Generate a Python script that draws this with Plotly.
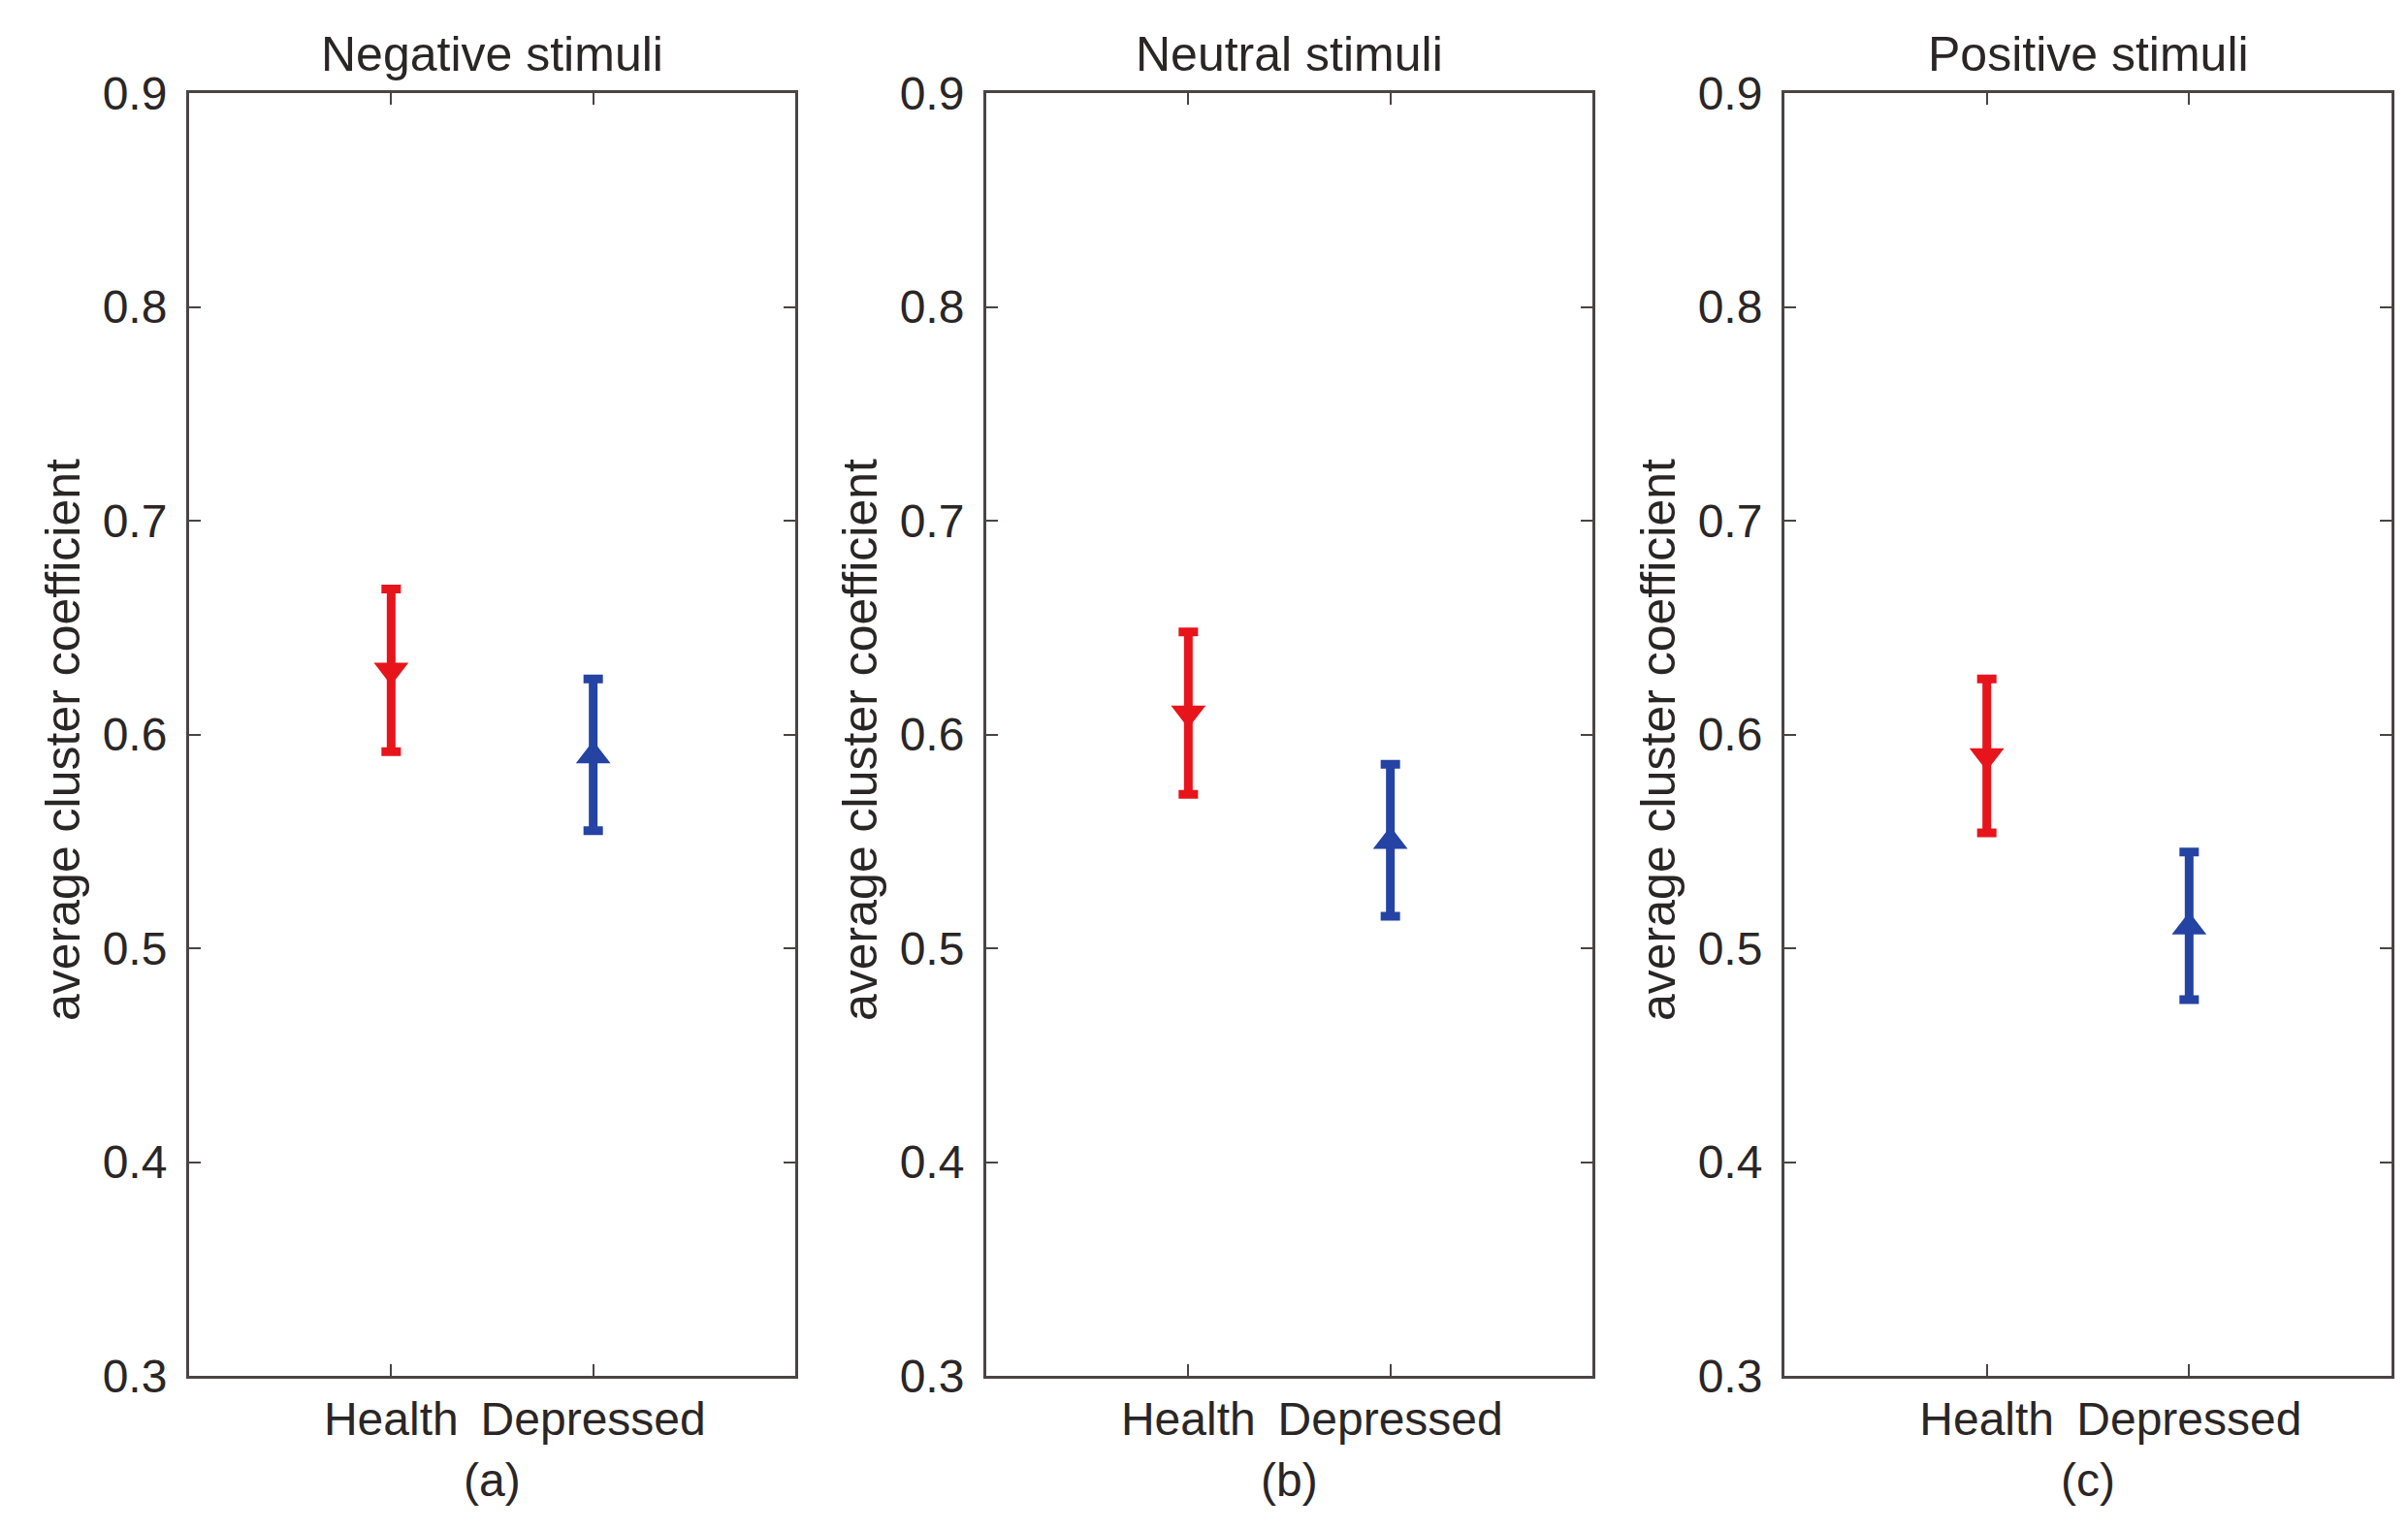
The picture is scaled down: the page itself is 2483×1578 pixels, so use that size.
import plotly.graph_objects as go

# ---- data ----
groups = ["Health", "Depressed"]
panel_titles = ["Negative stimuli", "Neutral stimuli", "Positive stimuli"]
panel_labels = ["(a)", "(b)", "(c)"]
health_mean = [0.630, 0.610, 0.590]
health_upper = [0.668, 0.648, 0.626]
health_lower = [0.592, 0.572, 0.554]
depressed_mean = [0.590, 0.550, 0.510]
depressed_upper = [0.626, 0.586, 0.545]
depressed_lower = [0.555, 0.515, 0.476]
y_ticks = [0.3, 0.4, 0.5, 0.6, 0.7, 0.8, 0.9]
y_title = "average cluster coefficient"

W, H = 2483, 1578
FONT = "Liberation Sans, Arial, sans-serif"
TXT = "#2a2626"
AX = "#4a4444"
RED = "#e8141c"
BLUE = "#2443a3"

x_domains = [(187 / W, 812 / W), (1009 / W, 1634 / W), (1832 / W, 2458 / W)]
y_domain = (1 - 1411 / H, 1 - 88 / H)

fig = go.Figure()
annotations = []
for i in range(3):
    xa = "x" if i == 0 else f"x{i+1}"
    ya = "y" if i == 0 else f"y{i+1}"
    series = [
        (groups[0], health_mean[i], health_upper[i], health_lower[i], RED, "triangle-down"),
        (groups[1], depressed_mean[i], depressed_upper[i], depressed_lower[i], BLUE, "triangle-up"),
    ]
    for name, m, up, lo, col, sym in series:
        fig.add_trace(go.Scatter(
            x=[name], y=[m], xaxis=xa, yaxis=ya, mode="markers",
            marker=dict(symbol=sym, size=31, color=col, line=dict(width=0)),
            error_y=dict(type="data", symmetric=False, array=[up - m], arrayminus=[m - lo],
                         color=col, thickness=9, width=10),
            showlegend=False, hoverinfo="skip",
        ))
    xkey = "xaxis" if i == 0 else f"xaxis{i+1}"
    ykey = "yaxis" if i == 0 else f"yaxis{i+1}"
    fig.update_layout(**{
        xkey: dict(domain=list(x_domains[i]), anchor=ya, type="category",
                   categoryorder="array", categoryarray=groups,
                   range=[-1, 2], tickmode="array", tickvals=groups, ticktext=groups,
                   showline=True, linecolor=AX, linewidth=3, mirror="ticks",
                   ticks="inside", ticklen=12, tickwidth=2, tickcolor=AX,
                   showgrid=False, zeroline=False, automargin=False,
                   tickfont=dict(family=FONT, size=48, color=TXT)),
        ykey: dict(domain=list(y_domain), anchor=xa, range=[0.3, 0.9],
                   tickmode="array", tickvals=y_ticks, ticktext=[f"{v:.1f}" for v in y_ticks],
                   showline=True, linecolor=AX, linewidth=3, mirror="ticks",
                   ticks="inside", ticklen=12, tickwidth=2, tickcolor=AX,
                   showgrid=False, zeroline=False, automargin=False, ticklabelstandoff=10,
                   tickfont=dict(family=FONT, size=48, color=TXT)),
    })
    xc = (x_domains[i][0] + x_domains[i][1]) / 2
    annotations.append(dict(text=panel_titles[i], x=xc, y=1 - 48 / H, xref="paper", yref="paper",
                            xanchor="center", yanchor="middle", showarrow=False,
                            font=dict(family=FONT, size=50, color=TXT)))
    annotations.append(dict(text=panel_labels[i], x=xc, y=1 - 1518 / H, xref="paper", yref="paper",
                            xanchor="center", yanchor="middle", showarrow=False,
                            font=dict(family=FONT, size=48, color=TXT)))
    annotations.append(dict(text=y_title, x=x_domains[i][0] - 130 / W, y=1 - 755 / H,
                            xref="paper", yref="paper", xanchor="center", yanchor="middle",
                            textangle=-90, showarrow=False,
                            font=dict(family=FONT, size=50, color=TXT)))

fig.update_layout(width=W, height=H, margin=dict(l=0, r=0, t=0, b=0),
                  paper_bgcolor="white", plot_bgcolor="white", annotations=annotations)
fig.write_html("out.html")
